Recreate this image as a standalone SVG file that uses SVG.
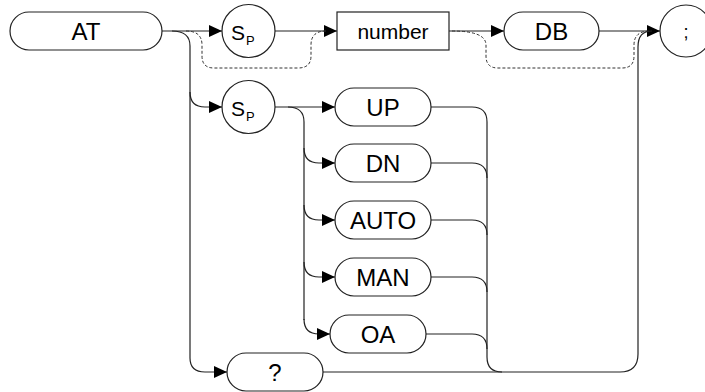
<svg xmlns="http://www.w3.org/2000/svg" width="705" height="392" viewBox="0 0 705 392">
<defs>
<marker id="ah" markerUnits="userSpaceOnUse" markerWidth="13" markerHeight="12" refX="13" refY="6" orient="auto">
<path d="M0,0 L13,6 L0,12 Z" fill="#000"/>
</marker>
<style>
.n{fill:#fff;stroke:#222;stroke-width:1.2}
.t{font-family:"Liberation Sans",Arial,sans-serif;font-size:24px;fill:#000;text-anchor:middle}
.s{font-family:"Liberation Sans",Arial,sans-serif;font-size:21px;fill:#000;text-anchor:start}
.c{fill:none;stroke:#222;stroke-width:1.2}
.a{marker-end:url(#ah)}
.d{fill:none;stroke:#333;stroke-width:1;stroke-dasharray:3,2}
</style>
</defs>
<g id="connectors">
<path class="c a" d="M162,31 H222"/>
<path class="c a" d="M275,31 H337"/>
<path class="c a" d="M449,31 H504"/>
<path class="c a" d="M599,31 H660"/>
<path class="d" d="M186,31 Q202,31 202,45 V56 Q202,68 214,68 H298 Q311,68 311,56 V45 Q311,31 326,31"/>
<path class="d" d="M452,31 Q486,31 486,45 V56 Q486,68 498,68 H622 Q634,68 634,56 V45 Q634,31 650,31"/>
<path class="c a" d="M172,31 Q190,31 190,46 V358 Q190,372 205,372 H227"/>
<path class="c a" d="M190,92 Q190,107 205,107 H222"/>
<path class="c a" d="M275,107 H335"/>
<path class="c" d="M288,107 Q304,107 304,122 V320"/>
<path class="c a" d="M304,148 Q304,163 319,163 H335"/>
<path class="c a" d="M304,205 Q304,220 319,220 H335"/>
<path class="c a" d="M304,262 Q304,277 319,277 H335"/>
<path class="c a" d="M304,319 Q304,334 319,334 H330"/>
<path class="c" d="M431,107 H472 Q487,107 487,122 V357 Q487,372 502,372"/>
<path class="c" d="M431,163 H472 Q487,163 487,178"/>
<path class="c" d="M431,220 H472 Q487,220 487,235"/>
<path class="c" d="M431,277 H472 Q487,277 487,292"/>
<path class="c" d="M426,334 H472 Q487,334 487,349"/>
<path class="c" d="M323,372 H620 Q638,372 638,354 V47 Q638,31 652,31"/>
</g>
<g id="node-AT"><rect class="n" x="10" y="12" width="152" height="38" rx="19"/><text class="t" x="86" y="39.5">AT</text></g>
<g id="node-sp1"><circle class="n" cx="248.5" cy="31" r="26.5"/><text class="s" x="231" y="40">S<tspan font-size="13" dx="1" dy="5">P</tspan></text></g>
<g id="node-number"><rect class="n" x="337" y="12" width="112" height="38"/><text class="t" x="393" y="38.5" style="font-size:21px">number</text></g>
<g id="node-DB"><rect class="n" x="504" y="12" width="95" height="38" rx="19"/><text class="t" x="551.5" y="39.5">DB</text></g>
<g id="node-semi"><circle class="n" cx="686" cy="31" r="26"/><text class="t" x="686" y="38" style="font-size:18px">;</text></g>
<g id="node-sp2"><circle class="n" cx="248.5" cy="107" r="26.5"/><text class="s" x="231" y="116">S<tspan font-size="13" dx="1" dy="5">P</tspan></text></g>
<g id="node-UP"><rect class="n" x="335" y="88" width="96" height="38" rx="19"/><text class="t" x="383" y="115.5">UP</text></g>
<g id="node-DN"><rect class="n" x="335" y="144" width="96" height="38" rx="19"/><text class="t" x="383" y="171.5">DN</text></g>
<g id="node-AUTO"><rect class="n" x="335" y="201" width="96" height="38" rx="19"/><text class="t" x="383" y="228.5">AUTO</text></g>
<g id="node-MAN"><rect class="n" x="335" y="258" width="96" height="38" rx="19"/><text class="t" x="383" y="285.5">MAN</text></g>
<g id="node-OA"><rect class="n" x="330" y="315" width="96" height="38" rx="19"/><text class="t" x="378" y="342.5">OA</text></g>
<g id="node-Q"><rect class="n" x="227" y="353" width="96" height="38" rx="19"/><text class="t" x="275" y="380.5">?</text></g>
</svg>
